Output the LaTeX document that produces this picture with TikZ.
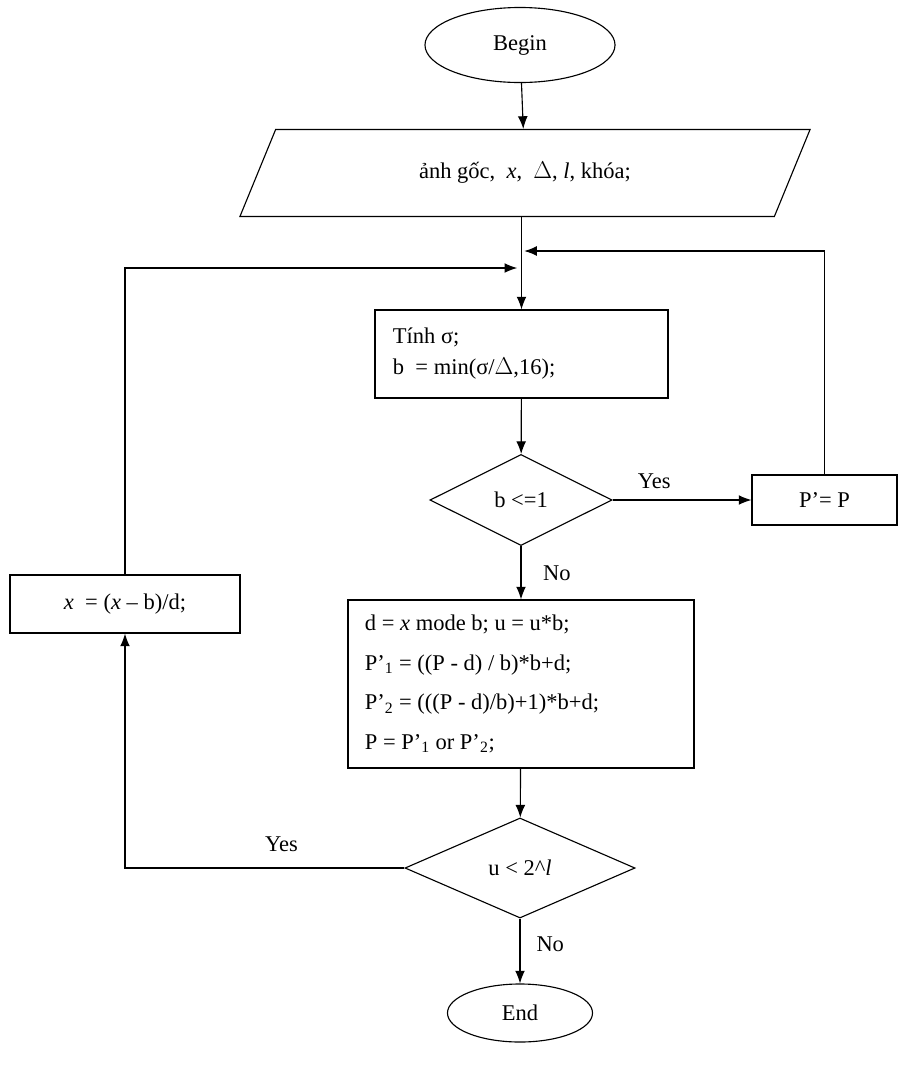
\documentclass[tikz,border=0pt]{standalone}
\usepackage{fontspec}
\setmainfont{Liberation Serif}
\usetikzlibrary{shapes.geometric,arrows.meta,positioning}

\begin{document}
\begin{tikzpicture}[
    x=0.025cm, y=-0.025cm,
    font=\fontsize{16}{22}\selectfont,
    term/.style  = {ellipse, draw, thick, inner sep=0pt},
    proc/.style  = {rectangle, draw, thick, inner sep=0pt},
    test/.style  = {diamond, draw, thick, inner sep=0pt,
                    minimum width=4.55cm, minimum height=2.275cm},
    inout/.style = {trapezium, trapezium left angle=31, trapezium right angle=149,
                    trapezium stretches body, draw, thick, inner sep=0pt,
                    minimum width=14.25cm, minimum height=2.175cm},
    arrow/.style = {-{Latex[length=9pt,width=7pt]}, thick},
]
  \useasboundingbox (0,0) rectangle (912,1080);

  \node[term, minimum width=4.75cm, minimum height=1.875cm] (begin) at (520,45) {Begin};
  \node[inout] (input) at (525,173)
      {ảnh gốc,\ \ \textit{x},\ \ $\Delta$, \textit{l}, khóa;};
  \node[proc, minimum width=7.325cm, minimum height=2.2cm] (calc) at (521.5,354) {};
  \node[align=left, anchor=west] at (388,354)
      {Tính σ;\\b\ \ = min(σ/$\Delta$,16);};
  \node[test] (testb) at (521,500) {b <=1};
  \node[proc, minimum width=3.625cm, minimum height=1.25cm] (keep) at (824.5,500) {P’= P};
  \node[proc, minimum width=8.65cm, minimum height=4.2cm] (embed) at (521,684) {};
  \node[align=left, anchor=west, font=\fontsize{16}{28}\selectfont] at (360,684)
      {d = \textit{x} mode b; u = u*b;\\
       P’$_{\mathrm{1}}$ = ((P - d) / b)*b+d;\\
       P’$_{\mathrm{2}}$ = (((P - d)/b)+1)*b+d;\\
       P = P’$_{\mathrm{1}}$ or P’$_{\mathrm{2}}$;};
  \node[test, minimum width=5.75cm, minimum height=2.5cm] (testu) at (520,868)
      {u < 2\textasciicircum\textit{l}};
  \node[proc, minimum width=5.75cm, minimum height=1.45cm] (next) at (125,604)
      {\textit{x}\ \ = (\textit{x} -- b)/d;};
  \node[term, minimum width=3.625cm, minimum height=1.45cm] (end) at (520,1013) {End};

  \coordinate (join1) at (520,251);
  \coordinate (join2) at (520,268);

  % main path
  \draw[arrow] (begin) -- (input);
  \draw[arrow] (input.south -| calc.north) -- (calc.north);
  \draw[arrow] (calc) -- (testb);
  \draw[arrow] (testb) -- node[right=12pt, pos=0.5] {No} (embed);
  \draw[arrow] (embed) -- (testu);
  \draw[arrow] (testu) -- node[right=8pt, pos=0.4] {No} (end);

  % loops
  \draw[arrow] (testb.east) -- node[above=4pt, pos=0.3] {Yes} (keep.west);
  \draw[arrow] (keep.north) |- ([xshift=3pt]join1);
  \draw[arrow] (testu.west) -| node[above=8pt, pos=0.22] {Yes} (next.south);
  \draw[arrow] (next.north) |- ([xshift=-2pt]join2);

\end{tikzpicture}
\end{document}
